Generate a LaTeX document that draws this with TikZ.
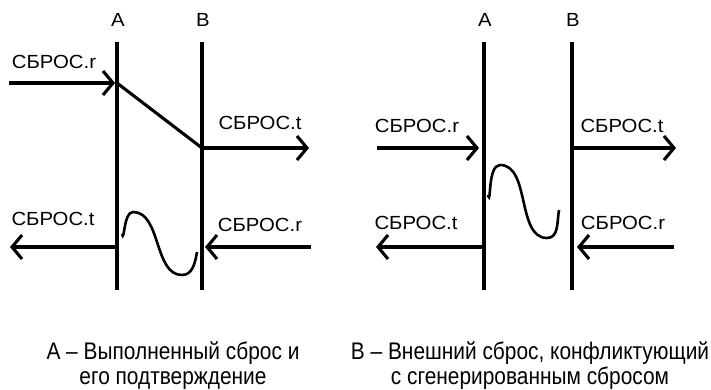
\documentclass[tikz,border=0pt]{standalone}
\usepackage{fontspec}
\setmainfont{Liberation Sans}
\newfontfamily\labelfont[FakeStretch=1.07]{Liberation Sans}
\newfontfamily\narrowfont[FakeStretch=0.87]{Liberation Sans}
\usetikzlibrary{arrows.meta}
\begin{document}
\begin{tikzpicture}[x=1pt,y=-1pt,
  wire/.style={line width=3.1pt},
  wave/.style={line width=2.6pt},
  sig/.style={line width=3.1pt,-{Straight Barb[length=10pt,width=24pt]}},
  lbl/.style={inner sep=0pt,font=\labelfont\fontsize{19}{21}\selectfont},
  captxt/.style={inner sep=0pt,align=center,font=\narrowfont\fontsize{24}{25}\selectfont}]
\useasboundingbox (0,0) rectangle (711,390);
% ---------- left diagram ----------
\node[lbl] (lA) at (118,20) {A};
\node[lbl] (lB) at (203,20) {B};
\coordinate (lAt) at (117,42); \coordinate (lAb) at (117,290);
\coordinate (lBt) at (202,42); \coordinate (lBb) at (202,290);
\draw[wire] (lAt) -- (lAb);
\draw[wire] (lBt) -- (lBb);
\coordinate (l1s) at (9,83); \coordinate (l1e) at (115,83);
\draw[sig] (l1s) -- (l1e);
\node[lbl] (l1) at (54,62) {СБРОС.r};
\coordinate (ld1) at (117,83); \coordinate (ld2) at (202,148);
\draw[wire] (ld1) -- (ld2);
\coordinate (l2e) at (309,148);
\draw[sig] (ld2) -- (l2e);
\node[lbl] (l2) at (260,123) {СБРОС.t};
\coordinate (l3s) at (117,247); \coordinate (l3e) at (10,247);
\draw[sig] (l3s) -- (l3e);
\node[lbl] (l3) at (53,219) {СБРОС.t};
\coordinate (l4s) at (311,247); \coordinate (l4e) at (205,247);
\draw[sig] (l4s) -- (l4e);
\node[lbl] (l4) at (260,225) {СБРОС.r};
\coordinate (lw1) at (122,234); \coordinate (lw2) at (133,212);
\coordinate (lw3) at (182,275); \coordinate (lw4) at (197,252);
\draw[wave] (lw1) to[out=-75,in=180] (lw2) to[out=0,in=180,looseness=0.9] (lw3) to[out=0,in=-100] (lw4);
% ---------- right diagram ----------
\node[lbl] (rA) at (485,20) {A};
\node[lbl] (rB) at (573,20) {B};
\coordinate (rAt) at (484,42); \coordinate (rAb) at (484,290);
\coordinate (rBt) at (572,42); \coordinate (rBb) at (572,290);
\draw[wire] (rAt) -- (rAb);
\draw[wire] (rBt) -- (rBb);
\coordinate (r1s) at (377,148); \coordinate (r1e) at (479,148);
\draw[sig] (r1s) -- (r1e);
\node[lbl] (r1) at (417,126) {СБРОС.r};
\coordinate (r2s) at (572,148); \coordinate (r2e) at (676,148);
\draw[sig] (r2s) -- (r2e);
\node[lbl] (r2) at (622,126) {СБРОС.t};
\coordinate (r3s) at (484,247); \coordinate (r3e) at (376,247);
\draw[sig] (r3s) -- (r3e);
\node[lbl] (r3) at (416,223) {СБРОС.t};
\coordinate (r4s) at (674,247); \coordinate (r4e) at (577,247);
\draw[sig] (r4s) -- (r4e);
\node[lbl] (r4) at (623,223) {СБРОС.r};
\coordinate (rw1) at (488,195); \coordinate (rw2) at (500,165);
\coordinate (rw3) at (547,238); \coordinate (rw4) at (559,210);
\draw[wave] (rw1) to[out=-75,in=180] (rw2) to[out=0,in=180,looseness=0.9] (rw3) to[out=0,in=-100] (rw4);
% ---------- captions ----------
\node[captxt] (cA) at (173,366) {А – Выполненный сброс и\\его подтверждение};
\node[captxt] (cB) at (530,366) {В – Внешний сброс, конфликтующий\\с сгенерированным сбросом};
\end{tikzpicture}
\end{document}
